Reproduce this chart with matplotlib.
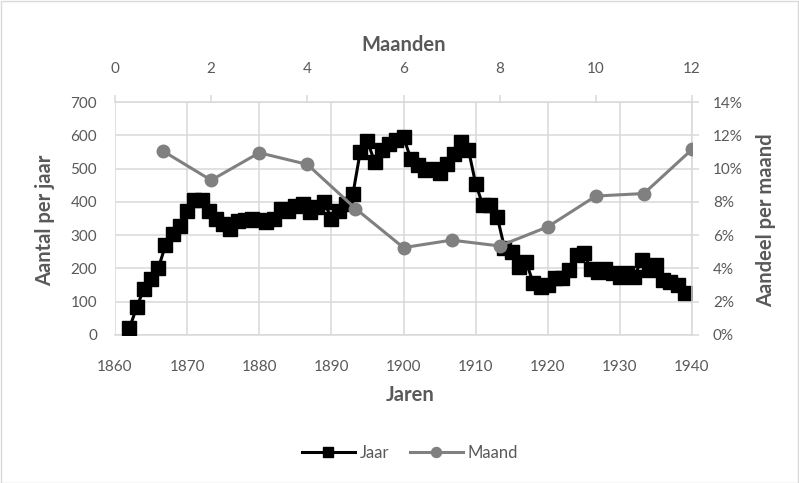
import matplotlib
matplotlib.use('Agg')
import matplotlib.pyplot as plt
from matplotlib.patches import Rectangle

plt.rcParams['font.family'] = ['Lato', 'DejaVu Sans']

# =========================================================
# DATA
# =========================================================
jaren = list(range(1862, 1940))
aantal_per_jaar = [20, 83, 138, 167, 200, 270, 303, 327, 372, 405,
                   405, 372, 350, 332, 318, 343, 345, 350, 345, 338,
                   350, 380, 372, 388, 395, 370, 385, 400, 350, 372,
                   395, 425, 550, 582, 520, 555, 575, 585, 595, 530,
                   510, 495, 500, 487, 515, 545, 580, 557, 455, 390,
                   390, 355, 262, 250, 205, 220, 155, 143, 150, 170,
                   170, 195, 240, 247, 197, 190, 197, 187, 175, 185,
                   175, 225, 195, 210, 165, 160, 150, 125]

maanden = [1, 2, 3, 4, 5, 6, 7, 8, 9, 10, 11, 12]
aandeel_per_maand = [11.05, 9.3, 10.95, 10.25, 7.6, 5.25, 5.7, 5.35, 6.5, 8.35, 8.5, 11.15]

year_ticks = list(range(1860, 1941, 10))
count_ticks = list(range(0, 701, 100))
month_ticks = list(range(0, 13, 2))
pct_ticks = list(range(0, 15, 2))

TXT = '#595959'
GRID = '#d9d9d9'

fig = plt.figure(figsize=(7.99, 4.83), dpi=100)
fig.patches.append(Rectangle((0.001, 0.001), 0.998, 0.997, transform=fig.transFigure,
                             fill=False, edgecolor='#d9d9d9', linewidth=1))

pos = [115 / 799, 1 - 335 / 483, (692 - 115) / 799, (335 - 102) / 483]

# --- hoofdas: jaren / aantal ---
ax = fig.add_axes(pos)
ax.plot(jaren, aantal_per_jaar, color='black', marker='s', markersize=9.5,
        linewidth=2.2, label='Jaar', zorder=3)
ax.set_xlim(1860, 1940)
ax.set_ylim(0, 700)
ax.set_xticks(year_ticks)
ax.set_yticks(count_ticks)
ax.grid(True, color=GRID, linewidth=1.1)
ax.set_axisbelow(True)
for s in ['top', 'right', 'left']:
    ax.spines[s].set_visible(False)
ax.spines['bottom'].set_color(GRID)
ax.spines['bottom'].set_linewidth(1.1)
ax.tick_params(axis='x', length=0, pad=18, labelsize=11, colors=TXT)
ax.tick_params(axis='y', length=0, pad=13, labelsize=11, colors=TXT)

# --- tweede as: maanden / aandeel ---
ax2 = fig.add_axes(pos)
ax2.patch.set_visible(False)
ax2.plot(maanden, aandeel_per_maand, color='#808080', marker='o', markersize=9,
         linewidth=2.2, label='Maand', zorder=4)
ax2.set_xlim(0, 12)
ax2.set_ylim(0, 14)
ax2.set_xticks(month_ticks)
ax2.set_yticks(pct_ticks)
ax2.set_yticklabels([f'{p}%' for p in pct_ticks])
ax2.xaxis.tick_top()
ax2.yaxis.tick_right()
ax2.spines['left'].set_visible(False)
ax2.spines['bottom'].set_visible(False)
ax2.spines['top'].set_color(GRID)
ax2.spines['right'].set_color(GRID)
ax2.spines['top'].set_linewidth(1.1)
ax2.spines['right'].set_linewidth(1.1)
ax2.tick_params(axis='x', length=5, width=1.1, color=GRID, pad=14, labelsize=11, labelcolor=TXT)
ax2.tick_params(axis='y', length=5, width=1.1, color=GRID, pad=10, labelsize=11, labelcolor=TXT)

# --- titels ---
fig.text(410 / 799, 1 - 395 / 483, 'Jaren', ha='center', va='center',
         fontsize=14.5, fontweight='bold', color=TXT)
fig.text(404 / 799, 1 - 45 / 483, 'Maanden', ha='center', va='center',
         fontsize=14.5, fontweight='bold', color=TXT)
fig.text(45 / 799, 1 - 220 / 483, 'Aantal per jaar', ha='center', va='center',
         rotation=90, fontsize=14.5, fontweight='bold', color=TXT)
fig.text(766 / 799, 1 - 220 / 483, 'Aandeel per maand', ha='center', va='center',
         rotation=90, fontsize=14.5, fontweight='bold', color=TXT)

h1, l1 = ax.get_legend_handles_labels()
h2, l2 = ax2.get_legend_handles_labels()
fig.legend(h1 + h2, l1 + l2, loc='center', bbox_to_anchor=(410 / 799, 1 - 453 / 483),
           ncol=2, frameon=False, fontsize=12, labelcolor=TXT, handlelength=3.2,
           handletextpad=0.3, columnspacing=1.2, markerscale=0.8)

plt.savefig('out.png', dpi=100)
